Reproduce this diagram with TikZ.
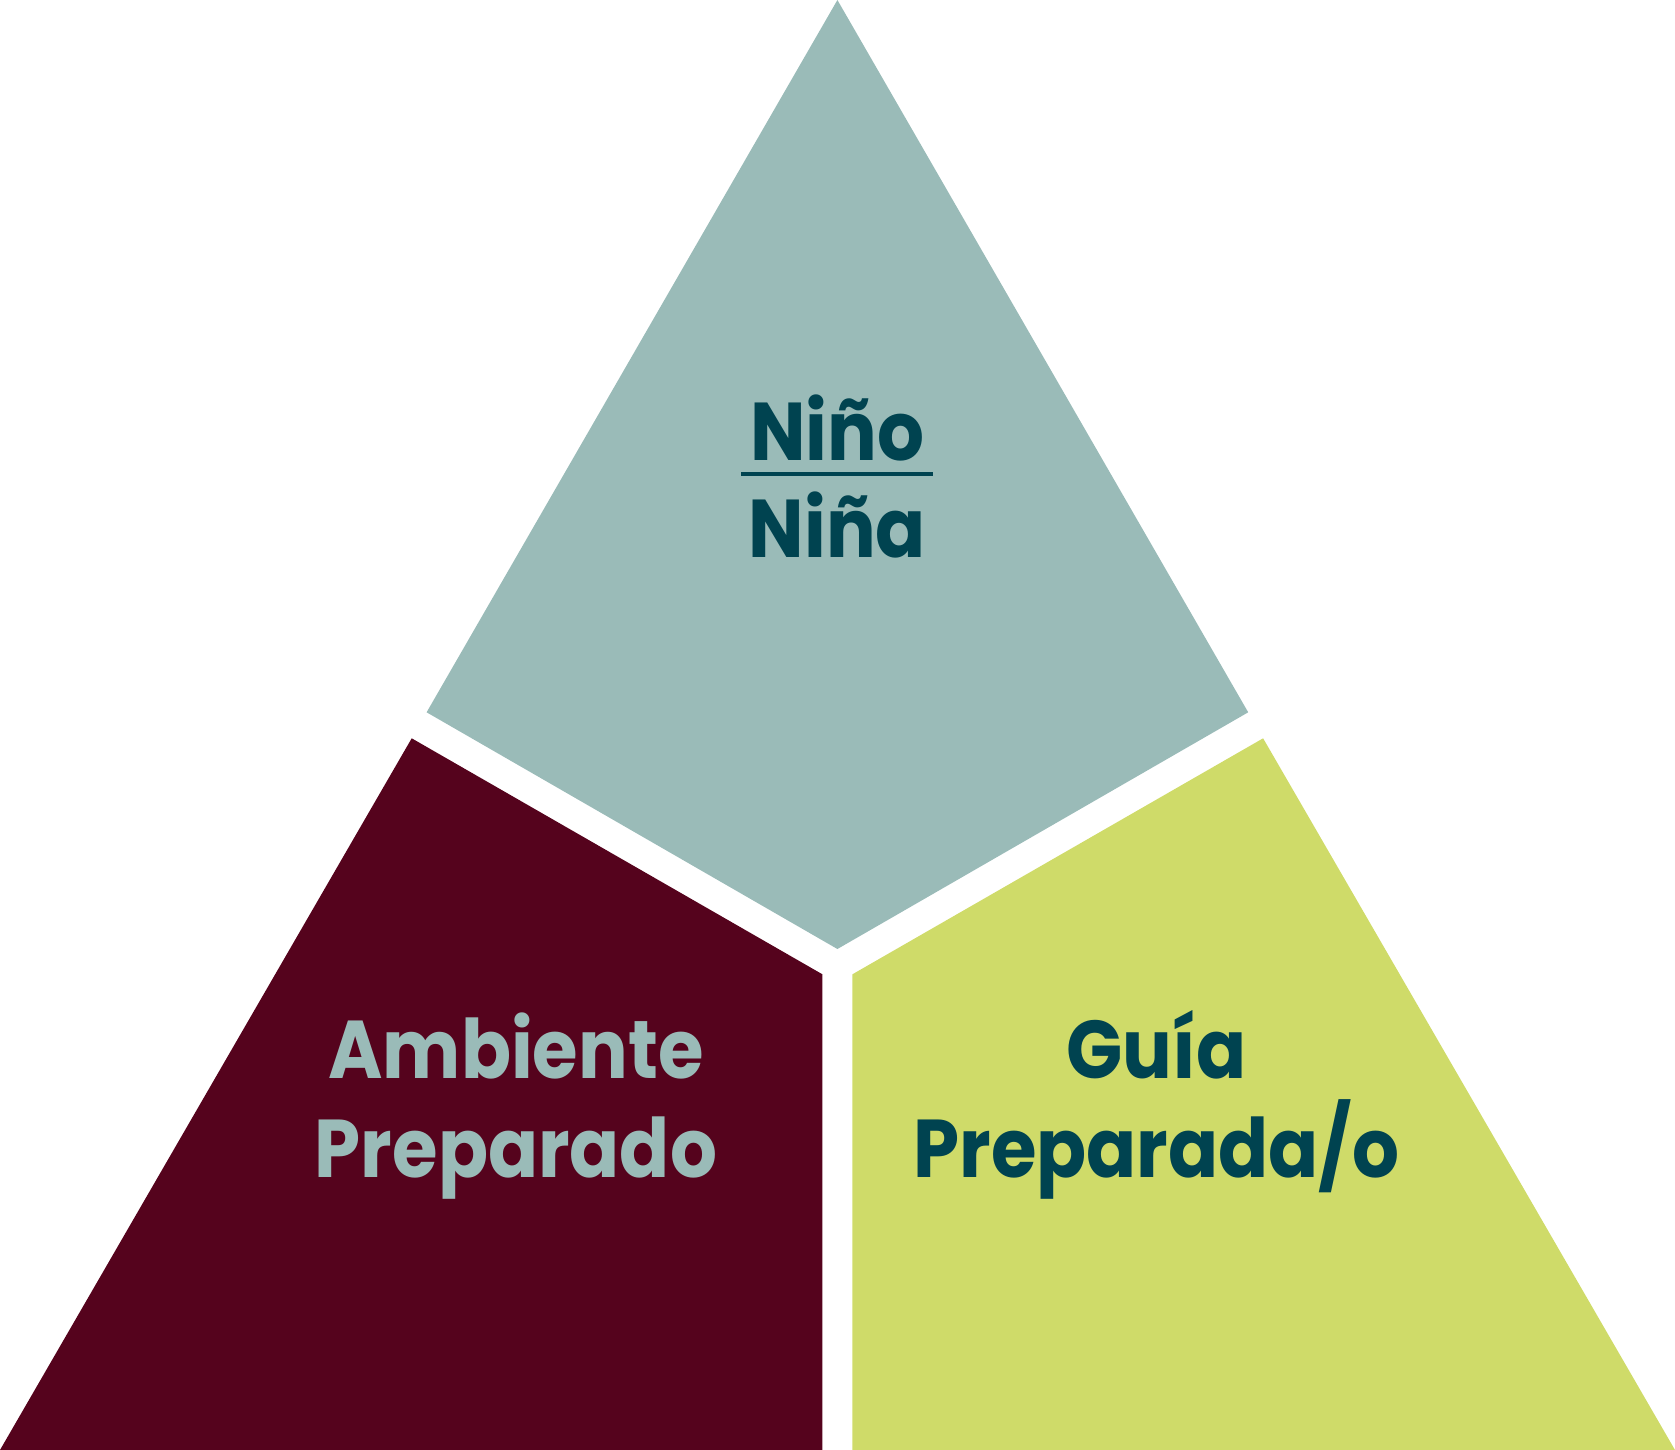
\documentclass[tikz,border=0pt]{standalone}
\usepackage{fontspec}
\setmainfont{Poppins}[FakeStretch=0.9]
\usepackage{tikz}
\usetikzlibrary{positioning}
\usepackage{xcolor}
\definecolor{mysage}{RGB}{154, 187, 184}
\definecolor{mywine}{RGB}{85, 3, 29}
\definecolor{mylime}{RGB}{207, 219, 105}
\definecolor{myteal}{RGB}{0, 67, 80}
\tikzset{
  piece/.style={draw=none},
  word/.style={anchor=base, inner sep=0pt, font=\fontsize{82}{98}\selectfont\bfseries}
}

\begin{document}
\begin{tikzpicture}[x=1pt, y=-1pt]
        \useasboundingbox (0,0) rectangle (1675,1450);
        % --- Top triangle ---
        \fill[piece, mysage] (837.4, 0) -- (1248.2, 712.3) -- (837.4, 949) -- (426.6, 712.3) -- cycle;
        % --- Left piece ---
        \fill[piece, mywine] (411.7, 738.3) -- (822.4, 974.3) -- (822.4, 1450) -- (0, 1450) -- cycle;
        % --- Right piece ---
        \fill[piece, mylime] (1263.1, 738.3) -- (852.4, 974.3) -- (852.4, 1450) -- (1675, 1450) -- cycle;

        % --- Labels ---
        \node[word, myteal] (nino) at (837.4, 460.4) {Niño};
        \draw[myteal, line width=4.5pt] (741, 474) -- (932.6, 474);
        \node[word, myteal] (nina) at (837.4, 557.6) {Niña};

        \node[word, mysage] (ambiente) at (516, 1078.9) {Ambiente};
        \node[word, mysage] (ambprep) at (516, 1177.2) {Preparado};

        \node[word, myteal] (guia) at (1156.5, 1078.9) {Guía};
        \node[word, myteal] (guiaprep) at (1156.5, 1177.2) {Preparada/o};
    \end{tikzpicture}
\end{document}
